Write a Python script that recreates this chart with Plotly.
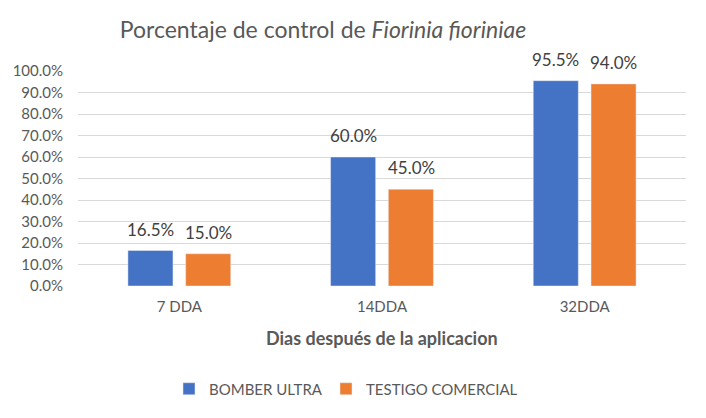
import plotly.graph_objects as go

categories = ["7 DDA", "14DDA", "32DDA"]
bomber = [16.5, 60.0, 95.5]
testigo = [15.0, 45.0, 94.0]
yticks = [0, 10, 20, 30, 40, 50, 60, 70, 80, 90, 100]

FONT = "Lato, Open Sans, sans-serif"
fig = go.Figure()
fig.add_trace(go.Bar(name="BOMBER ULTRA", x=categories, y=bomber, marker_color="#4472C4",
                     legend="legend"))
fig.add_trace(go.Bar(name="TESTIGO COMERCIAL", x=categories, y=testigo, marker_color="#ED7D31",
                     legend="legend2"))

for series, shift in ((bomber, -29), (testigo, 29)):
    for c, v in zip(categories, series):
        fig.add_annotation(x=c, y=v, xref="x", yref="y", text=f"{v:.1f}%", showarrow=False,
                           xshift=shift, yshift=9, yanchor="bottom", xanchor="center",
                           font=dict(size=17, color="#404040", family=FONT))

leg_common = dict(orientation="h", xanchor="left", y=(286 - 389) / 215, yanchor="middle",
                  font=dict(size=15, color="#595959"), itemwidth=30, bgcolor="rgba(0,0,0,0)")
fig.update_layout(
    width=706, height=418,
    margin=dict(l=78, r=20, t=71, b=132),
    paper_bgcolor="white", plot_bgcolor="white",
    barmode="group", bargap=0.43, bargroupgap=0.22,
    font=dict(family=FONT, color="#595959"),
    title=dict(text="Porcentaje de control de <i>Fiorinia fioriniae</i>",
               x=323/706, xanchor="center", y=1 - 30/418, yanchor="middle",
               font=dict(size=23, color="#595959", family=FONT)),
    xaxis=dict(showgrid=False, showline=False, ticks="", tickfont=dict(size=15, color="#595959"),
               ticklabelstandoff=10),
    yaxis=dict(range=[0, 100], tickvals=yticks, ticktext=[f"{v:.1f}%" for v in yticks],
               gridcolor="#D9D9D9", gridwidth=1, zeroline=False, showline=False,
               tickfont=dict(size=15, color="#595959"), ticklabelstandoff=14),
    legend=dict(x=(169 - 78) / 608, **leg_common),
    legend2=dict(x=(326 - 78) / 608, **leg_common),
    showlegend=True,
)
fig.add_annotation(text="<b>Dias después de la aplicacion</b>", xref="paper", yref="paper",
                   x=(382 - 78) / 608, y=(286 - 338) / 215, showarrow=False,
                   xanchor="center", yanchor="middle",
                   font=dict(size=18, color="#595959", family=FONT))
fig.write_html("out.html")
